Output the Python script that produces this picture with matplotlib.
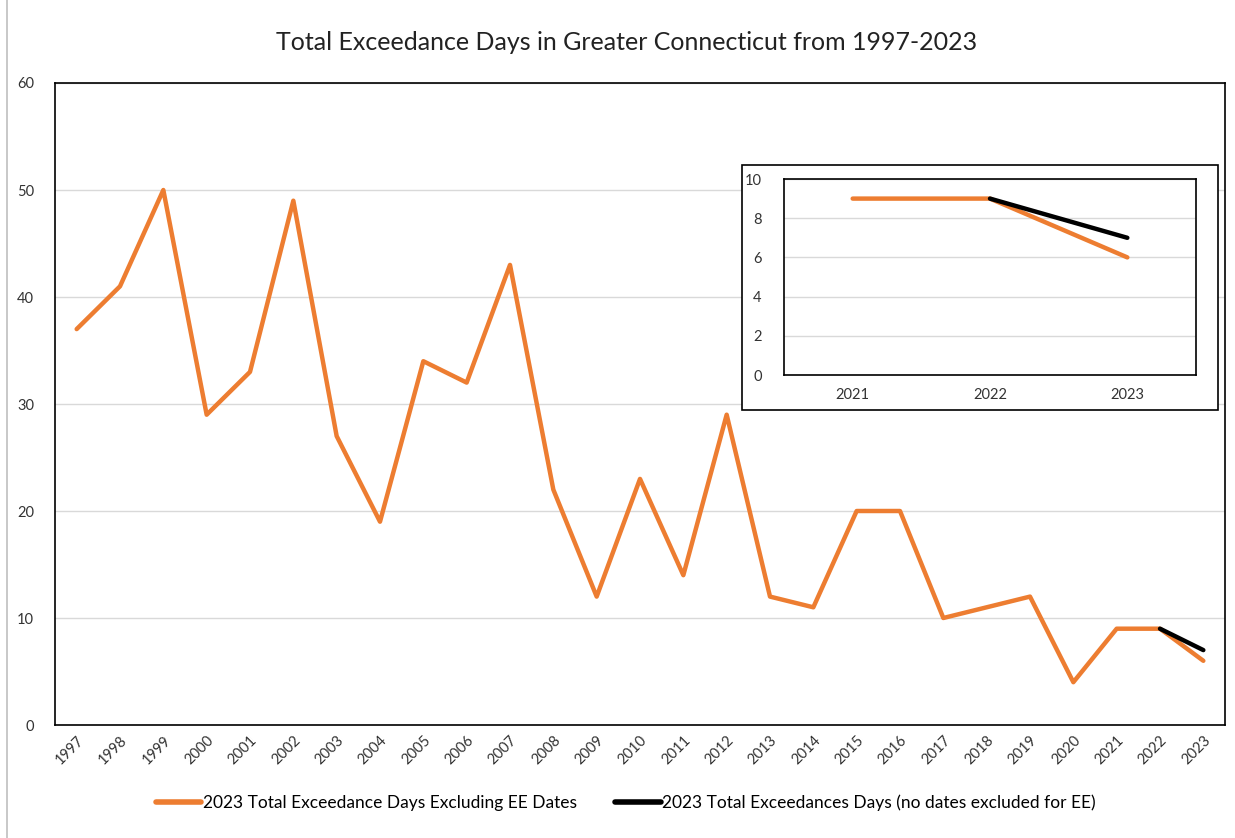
import numpy as np
import matplotlib
matplotlib.use('Agg')
import matplotlib.pyplot as plt
from matplotlib.patches import Rectangle

plt.rcParams['font.family'] = ['Lato', 'DejaVu Sans']

years = [str(y) for y in range(1997, 2024)]
excl_ee = [37, 41, 50, 29, 33, 49, 27, 19, 34, 32, 43, 22, 12, 23, 14, 29,
           12, 11, 20, 20, 10, 11, 12, 4, 9, 9, 6]
no_excl = [np.nan] * 25 + [9, 7]  # only 2022 and 2023

inset_years = years[-3:]
inset_excl = excl_ee[-3:]
inset_no_excl = no_excl[-3:]

orange = '#ED7D31'
grid_c = '#D9D9D9'

fig = plt.figure(figsize=(12.35, 8.38), dpi=100)

# outer chart-area border
fig.patches.append(Rectangle((7 / 1235, -0.01), 1.0, 1.02, transform=fig.transFigure,
                             fill=False, edgecolor='#BFBFBF', lw=1.2))

ax = fig.add_axes([55 / 1235, 1 - 725 / 838, 1170 / 1235, 642 / 838])
x = np.arange(len(years))
ax.plot(x, excl_ee, color=orange, lw=3.2, solid_capstyle='round',
        label='2023 Total Exceedance Days Excluding EE Dates', zorder=3)
ax.plot(x, no_excl, color='black', lw=3.2, solid_capstyle='round',
        label='2023 Total Exceedances Days (no dates excluded for EE)', zorder=4)
ax.set_xlim(-0.5, len(years) - 0.5)
ax.set_ylim(0, 60)
ax.set_yticks(range(0, 61, 10))
ax.set_xticks(x)
ax.set_xticklabels(years, rotation=45, ha='right', rotation_mode='anchor')
ax.tick_params(axis='both', length=0, labelsize=10.5, colors='#333333')
ax.tick_params(axis='y', pad=15)
ax.tick_params(axis='x', pad=6)
ax.yaxis.grid(True, color=grid_c, lw=1)
ax.set_axisbelow(True)
for s in ax.spines.values():
    s.set_color('black')
    s.set_linewidth(1.2)

fig.text(0.507, 1 - 43 / 838, 'Total Exceedance Days in Greater Connecticut from 1997-2023',
         ha='center', va='center', fontsize=18, color='#222222')

h, l = ax.get_legend_handles_labels()
leg = fig.legend(h, l, loc='center', bbox_to_anchor=(0.507, 1 - 803 / 838), ncol=2,
                 frameon=False, fontsize=12.5, handlelength=2.6, columnspacing=2.2,
                 handletextpad=0.1)
for line in leg.get_lines():
    line.set_linewidth(4)

# inset box
fig.patches.append(Rectangle((742 / 1235, 1 - 410 / 838), 476 / 1235, 245 / 838,
                             transform=fig.transFigure, facecolor='white',
                             edgecolor='black', lw=1.2, zorder=5))

ins = fig.add_axes([784 / 1235, 1 - 375 / 838, 412 / 1235, 196 / 838], zorder=6)
xi = np.arange(len(inset_years))
ins.plot(xi, inset_excl, color=orange, lw=3.2, solid_capstyle='round', zorder=3)
ins.plot(xi, inset_no_excl, color='black', lw=3.2, solid_capstyle='round', zorder=4)
ins.set_xlim(-0.5, len(inset_years) - 0.5)
ins.set_ylim(0, 10)
ins.set_yticks(range(0, 11, 2))
ins.set_xticks(xi)
ins.set_xticklabels(inset_years)
ins.tick_params(axis='both', length=0, labelsize=10.5, colors='#333333')
ins.tick_params(axis='y', pad=16)
ins.tick_params(axis='x', pad=9)
ins.yaxis.grid(True, color=grid_c, lw=1)
ins.set_axisbelow(True)
for s in ins.spines.values():
    s.set_color('black')
    s.set_linewidth(1.2)

fig.savefig('out.png', dpi=100)
